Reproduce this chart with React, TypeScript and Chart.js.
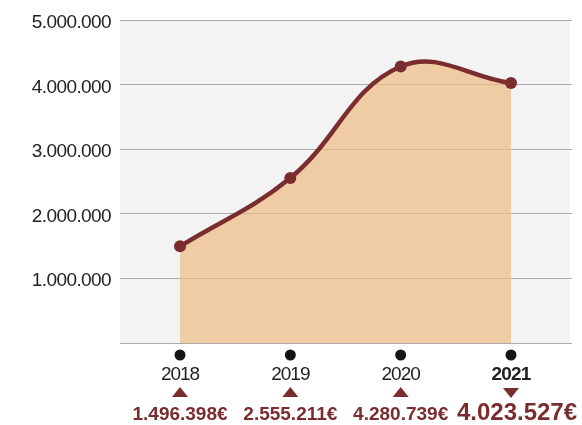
import React, { useEffect, useRef } from "react";
import { Chart, registerables } from "chart.js";

Chart.register(...registerables);

const years = ["2018", "2019", "2020", "2021"];
const revenue = [1496398, 2555211, 4280739, 4023527];
const trend = ["up", "up", "up", "down"];
const yTicks = [1000000, 2000000, 3000000, 4000000, 5000000];

const MAROON = "#7a2d2f";
const FONT = "'Liberation Sans', Arial, sans-serif";

const fmt = (n: number) => String(Math.round(n)).replace(/\B(?=(\d{3})+(?!\d))/g, ".");

const decorPlugin = {
  id: "decor",
  beforeDraw(chart: any) {
    const { ctx, chartArea } = chart;
    ctx.save();
    ctx.fillStyle = "#f3f3f3";
    ctx.fillRect(chartArea.left, chartArea.top, chartArea.right - chartArea.left - 2, chartArea.bottom - chartArea.top);
    ctx.restore();
  },
  afterDraw(chart: any) {
    const { ctx } = chart;
    const xs = chart.scales.x;
    const ys = chart.scales.y;
    ctx.save();
    ctx.fillStyle = "#222";
    ctx.textAlign = "right";
    ctx.textBaseline = "alphabetic";
    ctx.font = `19px ${FONT}`;
    (ctx as any).letterSpacing = "-0.6px";
    yTicks.forEach((v) => {
      const y = ys.getPixelForValue(v);
      ctx.fillText(fmt(v), 111, y + 8);
    });
    const base = ys.getPixelForValue(0);
    years.forEach((yr, i) => {
      const x = xs.getPixelForValue(i);
      const last = i === years.length - 1;
      ctx.fillStyle = "#151515";
      ctx.beginPath();
      ctx.arc(x, base + 12, 5.5, 0, Math.PI * 2);
      ctx.fill();
      ctx.textAlign = "center";
      ctx.fillStyle = "#222";
      ctx.font = `${last ? "bold " : ""}19px ${FONT}`;
      (ctx as any).letterSpacing = last ? "-0.8px" : "-1px";
      ctx.fillText(yr, x, base + 37);
      ctx.fillStyle = MAROON;
      ctx.beginPath();
      if (trend[i] === "up") {
        ctx.moveTo(x - 8, base + 54);
        ctx.lineTo(x + 8, base + 54);
        ctx.lineTo(x, base + 44);
      } else {
        ctx.moveTo(x - 8, base + 45);
        ctx.lineTo(x + 8, base + 45);
        ctx.lineTo(x, base + 55);
      }
      ctx.closePath();
      ctx.fill();
      ctx.font = `bold ${last ? 24 : 19}px ${FONT}`;
      (ctx as any).letterSpacing = "0px";
      ctx.fillText(fmt(revenue[i]) + "€", x + (last ? 6 : 0), base + 77);
    });
    ctx.restore();
  },
};

export default function App() {
  const ref = useRef<HTMLCanvasElement | null>(null);
  useEffect(() => {
    if (!ref.current) return;
    const chart = new Chart(ref.current, {
      type: "line",
      data: {
        datasets: [
          {
            data: revenue.map((v, i) => ({ x: i, y: v })),
            borderColor: MAROON,
            backgroundColor: "rgba(237,189,132,0.72)",
            borderWidth: 4.5,
            tension: 0.4,
            fill: "origin",
            pointRadius: 6,
            pointBackgroundColor: MAROON,
            pointBorderColor: MAROON,
            pointBorderWidth: 0,
          },
        ],
      },
      options: {
        responsive: false,
        animation: false,
        layout: { padding: { top: 20, right: 10, left: 0, bottom: 0 } },
        plugins: { legend: { display: false }, tooltip: { enabled: false } },
        scales: {
          x: {
            type: "linear",
            min: -0.544,
            max: 3.553,
            grid: { display: false },
            border: { display: false },
            ticks: { display: false },
            afterFit: (s: any) => {
              s.height = 82;
            },
          },
          y: {
            min: 0,
            max: 5000000,
            ticks: { display: false, stepSize: 1000000 },
            grid: { color: "#aaaaaa", lineWidth: 1, drawTicks: false },
            border: { display: false },
            afterFit: (s: any) => {
              s.width = 120;
            },
          },
        },
      } as any,
      plugins: [decorPlugin],
    });
    return () => chart.destroy();
  }, []);
  return (
    <div style={{ position: "absolute", left: 0, top: 0, width: 582, height: 425, background: "#fff" }}>
      <canvas ref={ref} width={582} height={425} />
    </div>
  );
}
